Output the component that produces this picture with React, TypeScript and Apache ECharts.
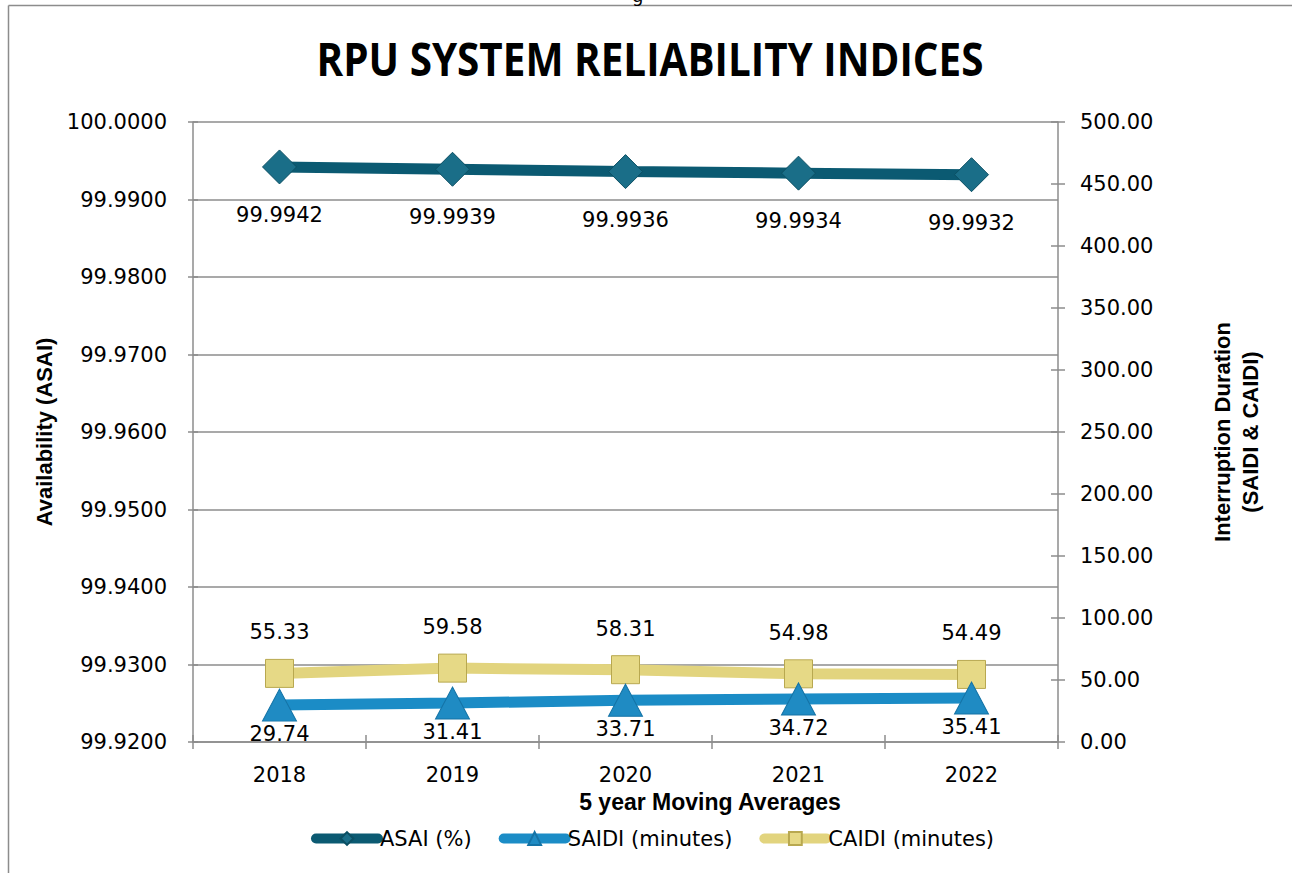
import React, { useEffect, useRef } from "react";
import * as echarts from "echarts";

const categories = ["2018", "2019", "2020", "2021", "2022"];
const asai = [99.9942, 99.9939, 99.9936, 99.9934, 99.9932];
const saidi = [29.74, 31.41, 33.71, 34.72, 35.41];
const caidi = [55.33, 59.58, 58.31, 54.98, 54.49];

const FONT = "DejaVu Sans";
const TITLE_FONT = "Liberation Sans";
const GRAY = "#8c8c8c";

export default function App() {
  const ref = useRef<HTMLDivElement>(null);
  useEffect(() => {
    if (!ref.current) return;
    const chart = echarts.init(ref.current, null, { renderer: "svg" });
    const labelBase = { show: true, position: "inside", color: "#000", fontFamily: FONT, fontSize: 21 };
    chart.setOption({
      animation: false,
      backgroundColor: "#fff",
      textStyle: { fontFamily: FONT },
      graphic: [
        { type: "line", shape: { x1: 8.5, y1: 5.5, x2: 1292, y2: 5.5 }, style: { stroke: GRAY, lineWidth: 1.5 } },
        { type: "line", shape: { x1: 8.5, y1: 5.5, x2: 8.5, y2: 873 }, style: { stroke: GRAY, lineWidth: 1.5 } },
        { type: "text", x: 632, y: -14, style: { text: "g", fontFamily: FONT, fontSize: 18, fill: "#000" } },
        {
          type: "text",
          x: 650,
          y: 58,
          scaleX: 0.86,
          style: {
            text: "RPU SYSTEM RELIABILITY INDICES",
            fontFamily: "Open Sans",
            fontWeight: "bold",
            fontSize: 47,
            fill: "#000",
            align: "center",
            verticalAlign: "middle",
          },
        },
        {
          type: "text",
          x: 710,
          y: 802,
          style: {
            text: "5 year Moving Averages",
            fontFamily: TITLE_FONT,
            fontWeight: "bold",
            fontSize: 23,
            fill: "#000",
            align: "center",
            verticalAlign: "middle",
          },
        },
      ],
      legend: {
        left: 306,
        top: 823,
        itemWidth: 62,
        itemHeight: 16,
        itemGap: 27,
        lineStyle: { width: 10, cap: "round" },
        textStyle: { fontFamily: FONT, fontSize: 21, color: "#000", padding: [0, 0, 0, -3] },
        data: ["ASAI (%)", "SAIDI (minutes)", "CAIDI (minutes)"],
      },
      grid: { left: 193, right: 234, top: 122, bottom: 131 },
      xAxis: [
        {
          type: "category",
          data: categories,
          boundaryGap: true,
          axisLine: { lineStyle: { color: GRAY, width: 1.5 } },
          axisTick: { show: true, length: 7, lineStyle: { color: GRAY, width: 1.5 } },
          axisLabel: { color: "#000", fontFamily: FONT, fontSize: 21, margin: 22 },
        },
        {
          type: "category",
          data: categories,
          position: "bottom",
          boundaryGap: true,
          axisLine: { show: false },
          axisTick: { show: true, inside: true, length: 7, lineStyle: { color: GRAY, width: 1.5 } },
          axisLabel: { show: false },
        },
      ],
      yAxis: [
        {
          type: "value",
          min: 99.92,
          max: 100,
          interval: 0.01,
          position: "left",
          name: "Availability (ASAI)",
          nameLocation: "middle",
          nameGap: 129,
          nameRotate: 90,
          nameTextStyle: { fontFamily: TITLE_FONT, fontWeight: "bold", fontSize: 22, color: "#000" },
          axisLine: { show: true, lineStyle: { color: GRAY, width: 1.5 } },
          axisTick: { show: true, length: 5, lineStyle: { color: GRAY, width: 1.5 } },
          axisLabel: {
            color: "#000",
            fontFamily: FONT,
            fontSize: 21,
            margin: 26,
            formatter: (v: number) => v.toFixed(4),
          },
          splitLine: { show: true, lineStyle: { color: GRAY, width: 1.5 } },
        },
        {
          type: "value",
          min: 0,
          max: 500,
          interval: 50,
          position: "right",
          name: "Interruption Duration\n(SAIDI & CAIDI)",
          nameLocation: "middle",
          nameGap: 150,
          nameRotate: 90,
          nameTextStyle: { fontFamily: TITLE_FONT, fontWeight: "bold", fontSize: 22, color: "#000", lineHeight: 28 },
          axisLine: { show: true, lineStyle: { color: GRAY, width: 1.5 } },
          axisTick: { show: true, length: 7, lineStyle: { color: GRAY, width: 1.5 } },
          axisLabel: {
            color: "#000",
            fontFamily: FONT,
            fontSize: 21,
            margin: 22,
            formatter: (v: number) => v.toFixed(2),
          },
          splitLine: { show: false },
        },
        {
          type: "value",
          min: 99.92,
          max: 100,
          interval: 0.01,
          position: "left",
          axisLine: { show: false },
          axisTick: { show: true, inside: true, length: 5, lineStyle: { color: GRAY, width: 1.5 } },
          axisLabel: { show: false },
          splitLine: { show: false },
        },
        {
          type: "value",
          min: 0,
          max: 500,
          interval: 50,
          position: "right",
          axisLine: { show: false },
          axisTick: { show: true, inside: true, length: 7, lineStyle: { color: GRAY, width: 1.5 } },
          axisLabel: { show: false },
          splitLine: { show: false },
        },
      ],
      series: [
        {
          name: "CAIDI (minutes)",
          type: "line",
          yAxisIndex: 1,
          data: caidi,
          z: 3,
          symbol: "rect",
          symbolSize: 28,
          lineStyle: { color: "#e2d47e", width: 11 },
          itemStyle: { color: "#e6d986", borderColor: "#b8a850", borderWidth: 1 },
          label: { ...labelBase, offset: [0, -41], formatter: (p: any) => p.value.toFixed(2) },
        },
        {
          name: "SAIDI (minutes)",
          type: "line",
          yAxisIndex: 1,
          data: saidi,
          z: 4,
          symbol: "triangle",
          symbolSize: [34, 32],
          lineStyle: { color: "#1b8cc6", width: 11 },
          itemStyle: { color: "#1f8bc3", borderColor: "#1473a6", borderWidth: 1 },
          label: { ...labelBase, offset: [0, 29], formatter: (p: any) => p.value.toFixed(2) },
        },
        {
          name: "ASAI (%)",
          type: "line",
          yAxisIndex: 0,
          data: asai,
          z: 5,
          symbol: "diamond",
          symbolSize: 34,
          lineStyle: { color: "#0b5a72", width: 11 },
          itemStyle: { color: "#1a6e88", borderColor: "#0b4f63", borderWidth: 1 },
          label: { ...labelBase, offset: [0, 48], formatter: (p: any) => p.value.toFixed(4) },
        },
      ],
    });
    return () => chart.dispose();
  }, []);
  return <div ref={ref} style={{ position: "fixed", left: 0, top: 0, width: 1292, height: 873 }} />;
}
